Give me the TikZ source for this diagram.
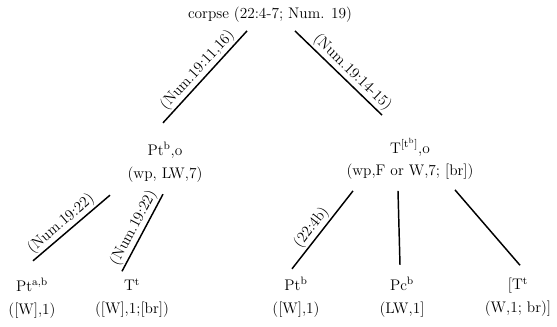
\documentclass[tikz,border=0pt]{standalone}
\usepackage{tikz}
\usetikzlibrary{positioning}
\usetikzlibrary{calc}

\begin{document}
\begin{tikzpicture}[x=0.75pt,y=0.75pt,
  every node/.style={inner sep=0pt,align=center,font=\fontsize{11.5}{17}\selectfont},
  branch/.style={line width=1.1pt},
  cite/.style={midway,sloped,above,inner sep=1.2pt}]
\useasboundingbox (0,0) rectangle (557,-327);

% top of the tree
\node (root) at (270,-15) {corpse (22:4-7; Num. 19)};

% second level
\node (lmid) at (165,-162) {Pt\textsuperscript{b},o\\(wp, LW,7)};
\node (rmid) at (410,-159) {T\textsuperscript{[t\textsuperscript{b}]},o\\(wp,F or W,7; [br])};

% leaves
\node (pab) at (32,-298) {Pt\textsuperscript{a,b}\\([W],1)};
\node (tt)  at (132,-298) {T\textsuperscript{t}\\([W],1;[br])};
\node (ptb) at (296,-297) {Pt\textsuperscript{b}\\([W],1)};
\node (pcb) at (402,-297) {Pc\textsuperscript{b}\\(LW,1]};
\node (tbr) at (518,-297) {[T\textsuperscript{t}\\(W,1; br)]};

% branches
\draw [branch] ([shift={(-23,-8)}]root.south) -- ([shift={(-2,19)}]lmid.north)
  node [cite] {(Num.19:11,16)};
\draw [branch] ([shift={(25,-8)}]root.south) -- ([shift={(-28,23)}]rmid.north)
  node [cite,pos=0.58] {(Num.19:14-15)};

\draw [branch] ([shift={(-55,-13)}]lmid.south) -- ([shift={(1,17)}]pab.north)
  node [cite,pos=0.55] {(Num.19:22)};
\draw [branch] ([shift={(-2,-12)}]lmid.south) -- ([shift={(-10,7)}]tt.north)
  node [cite] {(Num.19:22)};

\draw [branch] ([shift={(-57,-11)}]rmid.south) -- ([shift={(-4,8)}]ptb.north)
  node [cite,pos=0.55] {(22:4b)};
\draw [branch] ([shift={(-12,-11)}]rmid.south) -- ([shift={(-2,12)}]pcb.north);
\draw [branch] ([shift={(45,-10)}]rmid.south) -- ([shift={(2,12)}]tbr.north);

\end{tikzpicture}
\end{document}
